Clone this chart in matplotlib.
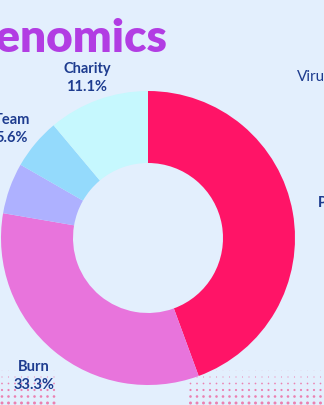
import matplotlib
matplotlib.use("Agg")
import matplotlib.pyplot as plt
import numpy as np

# Token allocation (share of supply, %), clockwise from the top
labels  = ["Presale", "Burn", "Liquidity", "Team", "Charity"]
shares  = [44.4, 33.3, 5.6, 5.6, 11.1]
colours = ["#FF1467", "#E874DC", "#AEB1FF", "#94DAFC", "#C6F8FE"]

bg      = "#E3EFFD"
ink     = "#1E3C8F"
purple  = "#B23DE3"

W, H = 324, 405
fig = plt.figure(figsize=(W / 100, H / 100), dpi=100, facecolor=bg)
ax = fig.add_axes([0, 0, 1, 1])
ax.set_facecolor(bg)

# halftone dots along the bottom edge
gx, gy = np.meshgrid(np.arange(2, W, 6.5), np.arange(2, 36, 6.5))
gx, gy = gx.ravel(), gy.ravel()
keep = (gx < 60) | (gx > 190)
size = np.clip((36 - gy) / 36, 0, 1) ** 1.3 * 5.0
ax.scatter(gx[keep], gy[keep], s=size[keep], color="#F2377F",
           alpha=0.6, linewidths=0, zorder=1)

# donut
ax.pie(shares, colors=colours, startangle=90, counterclock=False,
       center=(148, H - 238), radius=147,
       wedgeprops=dict(width=72, linewidth=0), frame=True)
ax.set_xlim(0, W)
ax.set_ylim(0, H)
ax.set_aspect("equal")
ax.axis("off")

# title (cropped on the left in the original)
fig.text(167 / W, 1 - 52 / H, "Tokenomics", ha="right", va="baseline",
         fontsize=33, fontweight="heavy", family="Lato", color=purple)

# slice labels
font = dict(family="Lato", fontweight="bold", fontsize=10.5, color=ink,
            ha="center", va="center")
ax.text(87, H - 69, "Charity", **font)
ax.text(87, H - 87, "11.1%", **font)
ax.text(12, H - 120, "Team", **font)
ax.text(12, H - 138, "5.6%", **font)
ax.text(34, H - 367, "Burn", **font)
ax.text(34, H - 385, "33.3%", **font)
ax.text(342, H - 203, "Presale", **font)
ax.text(352, H - 221, "44.4%", **font)
ax.text(297, H - 77, "Virus", family="Lato", fontsize=11, color=ink,
        ha="left", va="center")

fig.savefig("out.png", dpi=100, facecolor=bg)
